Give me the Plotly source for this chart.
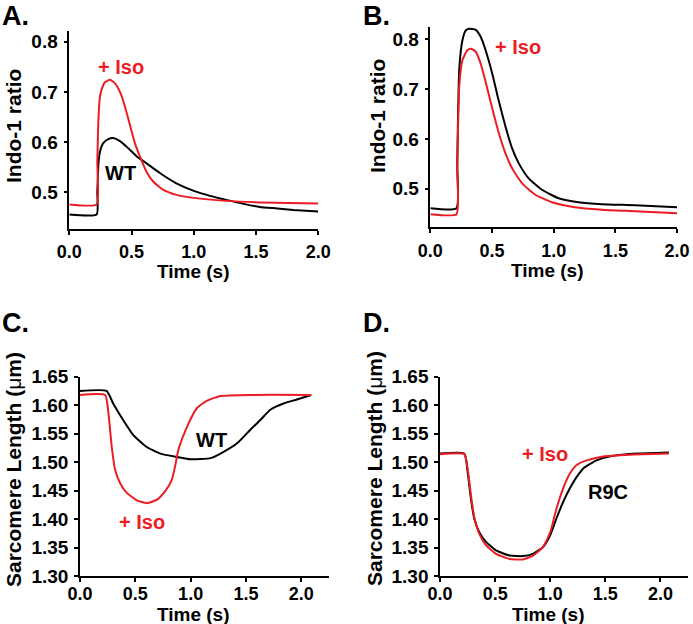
import plotly.graph_objects as go

# ---------------- data ----------------
# Panel A: Indo-1 ratio, WT
tA_wt = [0, 0.22, 0.225, 0.235, 0.246, 0.273, 0.313, 0.353, 0.407, 0.46, 0.54, 0.62, 0.73, 0.86, 1.0, 1.13, 1.26, 1.40, 1.53, 1.67, 1.80, 2.0]
yA_wt = [0.456, 0.456, 0.50, 0.56, 0.581, 0.598, 0.606, 0.608, 0.602, 0.591, 0.572, 0.558, 0.538, 0.518, 0.503, 0.493, 0.485, 0.477, 0.471, 0.468, 0.465, 0.462]
tA_iso = [0, 0.22, 0.225, 0.233, 0.246, 0.26, 0.286, 0.327, 0.367, 0.407, 0.447, 0.487, 0.527, 0.568, 0.62, 0.675, 0.755, 0.862, 1.0, 1.26, 1.53, 2.0]
yA_iso = [0.476, 0.476, 0.56, 0.64, 0.69, 0.705, 0.719, 0.724, 0.717, 0.70, 0.671, 0.634, 0.598, 0.571, 0.541, 0.521, 0.505, 0.495, 0.489, 0.483, 0.480, 0.478]

# Panel B: Indo-1 ratio, R9C
tB_r9c = [0, 0.212, 0.218, 0.234, 0.26, 0.287, 0.314, 0.368, 0.408, 0.448, 0.502, 0.556, 0.609, 0.663, 0.717, 0.797, 0.905, 1.04, 1.20, 1.39, 1.66, 2.0]
yB_r9c = [0.461, 0.461, 0.55, 0.738, 0.798, 0.818, 0.821, 0.819, 0.805, 0.778, 0.731, 0.675, 0.625, 0.581, 0.551, 0.521, 0.498, 0.481, 0.473, 0.469, 0.467, 0.463]
tB_iso = [0, 0.212, 0.218, 0.234, 0.26, 0.30, 0.328, 0.368, 0.408, 0.448, 0.502, 0.556, 0.609, 0.663, 0.744, 0.851, 0.985, 1.17, 1.39, 1.66, 2.0]
yB_iso = [0.449, 0.449, 0.54, 0.705, 0.758, 0.778, 0.781, 0.775, 0.751, 0.715, 0.661, 0.611, 0.571, 0.541, 0.511, 0.488, 0.473, 0.463, 0.458, 0.455, 0.451]

# Panel C: sarcomere length, WT
tC_wt = [0, 0.24, 0.30, 0.39, 0.48, 0.60, 0.726, 0.876, 1.0, 1.18, 1.27, 1.42, 1.54, 1.63, 1.72, 1.84, 1.96, 2.09]
yC_wt = [1.625, 1.625, 1.603, 1.574, 1.548, 1.527, 1.515, 1.509, 1.505, 1.507, 1.515, 1.533, 1.557, 1.574, 1.592, 1.603, 1.610, 1.618]
tC_iso = [0, 0.227, 0.257, 0.287, 0.317, 0.363, 0.423, 0.513, 0.605, 0.696, 0.77, 0.83, 0.86, 0.89, 0.967, 1.058, 1.149, 1.27, 1.57, 2.09]
yC_iso = [1.618, 1.618, 1.586, 1.527, 1.487, 1.463, 1.446, 1.433, 1.428, 1.434, 1.449, 1.469, 1.493, 1.522, 1.562, 1.595, 1.608, 1.616, 1.618, 1.618]

# Panel D: sarcomere length, R9C
tD_r9c = [0, 0.22, 0.25, 0.28, 0.31, 0.356, 0.417, 0.508, 0.63, 0.75, 0.843, 0.935, 1.0, 1.056, 1.117, 1.178, 1.24, 1.30, 1.42, 1.57, 1.79, 2.076]
yD_r9c = [1.515, 1.515, 1.483, 1.436, 1.401, 1.377, 1.360, 1.345, 1.336, 1.335, 1.339, 1.351, 1.372, 1.401, 1.430, 1.454, 1.474, 1.489, 1.503, 1.511, 1.515, 1.517]
tD_iso = [0, 0.22, 0.25, 0.28, 0.31, 0.356, 0.417, 0.508, 0.63, 0.75, 0.843, 0.935, 1.0, 1.056, 1.117, 1.178, 1.24, 1.33, 1.48, 1.72, 2.076]
yD_iso = [1.514, 1.514, 1.489, 1.442, 1.404, 1.374, 1.354, 1.339, 1.330, 1.329, 1.336, 1.351, 1.377, 1.418, 1.454, 1.480, 1.495, 1.503, 1.510, 1.513, 1.515]

x_ticks = [0.0, 0.5, 1.0, 1.5, 2.0]
ratio_ticks = [0.5, 0.6, 0.7, 0.8]
sl_ticks = [1.30, 1.35, 1.40, 1.45, 1.50, 1.55, 1.60, 1.65]

BLACK = "#000000"
RED = "#ec1c24"
FONT = "Liberation Sans, Arial, sans-serif"
W, H = 693, 624

fig = go.Figure()

def add(t, y, color, xa, ya):
    fig.add_trace(go.Scatter(x=t, y=y, mode="lines", xaxis=xa, yaxis=ya,
                             line=dict(color=color, width=2, shape="spline", smoothing=0.5),
                             showlegend=False, hoverinfo="skip"))

add(tA_wt, yA_wt, BLACK, "x", "y")
add(tA_iso, yA_iso, RED, "x", "y")
add(tB_r9c, yB_r9c, BLACK, "x2", "y2")
add(tB_iso, yB_iso, RED, "x2", "y2")
add(tC_wt, yC_wt, BLACK, "x3", "y3")
add(tC_iso, yC_iso, RED, "x3", "y3")
add(tD_r9c, yD_r9c, BLACK, "x4", "y4")
add(tD_iso, yD_iso, RED, "x4", "y4")

tickfont = dict(family=FONT, size=18, color="black", weight="bold")
ytickfont = dict(family=FONT, size=19, color="black", weight="bold")

def xaxis(domain, rng, anchor, standoff):
    return dict(domain=domain, range=rng, anchor=anchor, showline=True, linecolor="black", linewidth=1.5,
                ticks="outside", ticklen=4, tickwidth=1.5, tickcolor="black", tickvals=x_ticks,
                tickformat=".1f", tickfont=tickfont, showgrid=False, zeroline=False,
                ticklabelstandoff=standoff)

def yaxis(domain, rng, anchor, ticks, fmt):
    return dict(domain=domain, range=rng, anchor=anchor, showline=True, linecolor="black", linewidth=1.5,
                ticks="outside", ticklen=4, tickwidth=1.5, tickcolor="black", tickvals=ticks,
                tickformat=fmt, tickfont=ytickfont, showgrid=False, zeroline=False,
                ticklabelstandoff=2)

fig.update_layout(
    width=W, height=H,
    margin=dict(l=0, r=0, t=0, b=0, autoexpand=False),
    paper_bgcolor="white", plot_bgcolor="white",
    xaxis=xaxis([0.100, 0.4593], [0, 2.0], "y", 2),
    yaxis=yaxis([0.633, 0.951], [0.427, 0.822], "x", ratio_ticks, ".1f"),
    xaxis2=xaxis([0.621, 0.977], [0, 2.0], "y2", 3),
    yaxis2=yaxis([0.636, 0.957], [0.423, 0.825], "x2", ratio_ticks, ".1f"),
    xaxis3=xaxis([0.1154, 0.4747], [0, 2.25], "y3", -3),
    yaxis3=yaxis([0.0769, 0.3963], [1.30, 1.65], "x3", sl_ticks, ".2f"),
    xaxis4=xaxis([0.635, 0.9928], [0, 2.25], "y4", -3),
    yaxis4=yaxis([0.0769, 0.3963], [1.30, 1.65], "x4", sl_ticks, ".2f"),
)

ann_font_b = dict(family=FONT, size=20, color=BLACK, weight="bold")
ann_font_r = dict(family=FONT, size=20, color=RED, weight="bold")
anns = [
    dict(text="+ Iso", x=0.415, y=0.75, xref="x", yref="y", font=ann_font_r),
    dict(text="WT", x=0.41, y=0.538, xref="x", yref="y", font=ann_font_b),
    dict(text="R9C", x=0.36, y=0.848, xref="x2", yref="y2", font=ann_font_b),
    dict(text="+ Iso", x=0.71, y=0.785, xref="x2", yref="y2", font=ann_font_r),
    dict(text="WT", x=1.19, y=1.539, xref="x3", yref="y3", font=ann_font_b),
    dict(text="+ Iso", x=0.56, y=1.395, xref="x3", yref="y3", font=ann_font_r),
    dict(text="+ Iso", x=0.955, y=1.514, xref="x4", yref="y4", font=ann_font_r),
    dict(text="R9C", x=1.52, y=1.448, xref="x4", yref="y4", font=ann_font_b),
]

# axis titles (placed in paper space)
title_font = dict(family=FONT, size=19, color="black", weight="bold")
sl_font = dict(family=FONT, size=21, color="black")
sl_title = "<b>Sarcomere Length (</b>μ<b>m)</b>"
for px, py in [(193, 271), (547, 270), (193, 614), (548, 614)]:
    anns.append(dict(text="Time (s)", x=px / W, y=1 - py / H, xref="paper", yref="paper",
                     xanchor="center", yanchor="middle", font=title_font))
for txt, fnt, px, py in [("Indo-1 ratio", dict(title_font, size=21), 14, 126),
                         ("Indo-1 ratio", dict(title_font, size=21), 377, 116),
                         (sl_title, sl_font, 13, 470), (sl_title, sl_font, 374, 469)]:
    anns.append(dict(text=txt, x=px / W, y=1 - py / H, xref="paper", yref="paper", textangle=-90,
                     xanchor="center", yanchor="middle", font=fnt))

lab_font = dict(family=FONT, size=27, color="black", weight="bold")
for txt, px, py in [("A.", 0, 16), ("B.", 361, 16), ("C.", 0, 323), ("D.", 361, 323)]:
    anns.append(dict(text=txt, x=px / W, y=1 - py / H, xref="paper", yref="paper",
                     xanchor="left", yanchor="middle", font=lab_font))
for a in anns:
    a.setdefault("showarrow", False)
fig.update_layout(annotations=anns)

fig.write_html("out.html", config={"displayModeBar": False},
               post_script="document.body.style.margin='0';document.body.style.overflow='hidden';")
